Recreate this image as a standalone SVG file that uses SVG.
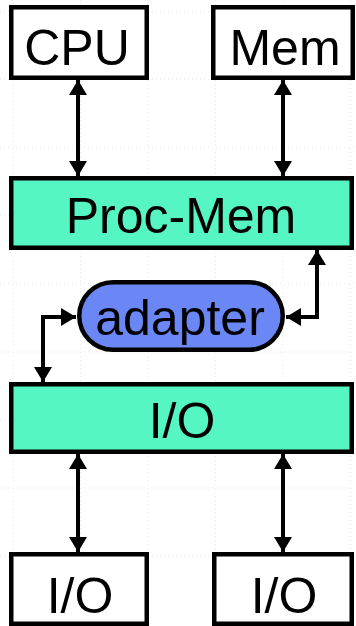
<svg xmlns="http://www.w3.org/2000/svg" width="356" height="626" viewBox="0 0 356 626">
  <style>
    .grid { stroke: #e4e9f3; stroke-width: 1; stroke-dasharray: 1 3; fill: none; }
    .box { stroke: #000; stroke-width: 4.5; }
    .plain { fill: #ffffff; }
    .bus { fill: #55f5c4; }
    .pill { fill: #6b86f5; }
    .lbl { font-family: "Liberation Sans", Arial, sans-serif; font-size: 50px; fill: #000; text-anchor: middle; }
    .wire { stroke: #000; stroke-width: 4; fill: none; marker-start: url(#head); marker-end: url(#head); }
  </style>
  <defs>
    <marker id="head" viewBox="0 0 15 18" refX="15" refY="9" markerWidth="15" markerHeight="18" markerUnits="userSpaceOnUse" orient="auto-start-reverse">
      <path d="M0,0 L15,9 L0,18 z" fill="#000"/>
    </marker>
  </defs>

  <rect width="356" height="626" fill="#ffffff"/>

  <!-- background layout grid -->
  <g id="grid" class="grid">
    <path d="M13,0 V626 M80.5,0 V626 M148,0 V626 M215.5,0 V626 M283,0 V626 M350.5,0 V626"/>
    <path d="M0,11 H356 M0,79 H356 M0,147 H356 M0,215 H356 M0,283 H356 M0,352 H356 M0,420 H356 M0,488 H356 M0,556 H356"/>
  </g>

  <g id="connectors">
    <path class="wire" d="M78,80 V176"/>
    <path class="wire" d="M283,80 V176"/>
    <path class="wire" d="M76,317 H43 V382"/>
    <path class="wire" d="M286,317 H317 V250"/>
    <path class="wire" d="M78,454 V552"/>
    <path class="wire" d="M283,454 V552"/>
  </g>

  <g id="cpu">
    <rect class="box plain" x="11.25" y="7.25" width="135.5" height="70.5"/>
    <text class="lbl" x="77" y="65" font-size="52">CPU</text>
  </g>
  <g id="mem">
    <rect class="box plain" x="213.25" y="7.25" width="139.5" height="70.5"/>
    <text class="lbl" x="285" y="65" font-size="55">Mem</text>
  </g>
  <g id="proc-mem">
    <rect class="box bus" x="11.25" y="178.25" width="340.5" height="69.5"/>
    <text class="lbl" x="181" y="233">Proc-Mem</text>
  </g>
  <g id="adapter">
    <rect class="box pill" x="79.25" y="282.25" width="203.5" height="67.5" rx="33.75"/>
    <text class="lbl" x="180" y="335">adapter</text>
  </g>
  <g id="io-bus">
    <rect class="box bus" x="11.25" y="384.25" width="340.5" height="67.5"/>
    <text class="lbl" x="182" y="438">I/O</text>
  </g>
  <g id="io-left">
    <rect class="box plain" x="11.25" y="554.25" width="135.5" height="69.5"/>
    <text class="lbl" x="80" y="613" font-size="56">I/O</text>
  </g>
  <g id="io-right">
    <rect class="box plain" x="214.25" y="554.25" width="137.5" height="69.5"/>
    <text class="lbl" x="284" y="613" font-size="56">I/O</text>
  </g>
</svg>
